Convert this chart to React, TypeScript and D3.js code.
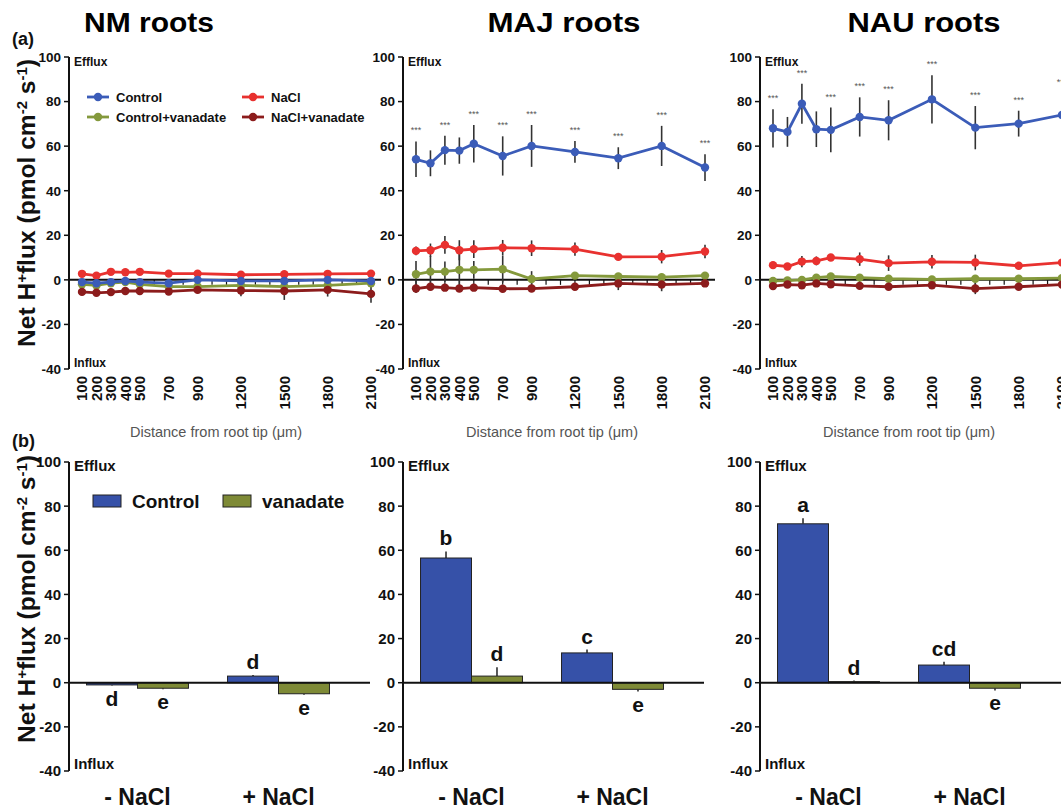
import React from 'react';
import * as d3 from 'd3';

// ---------- data ----------
const distances = [100, 200, 300, 400, 500, 700, 900, 1200, 1500, 1800, 2100];
const panelTitles = ['NM roots', 'MAJ roots', 'NAU roots'];
const yTicks = [100, 80, 60, 40, 20, 0, -20, -40];
const seriesNames = ['Control', 'NaCl', 'Control+vanadate', 'NaCl+vanadate'];
const seriesColors = ['#3b5cb8', '#e8312f', '#84993c', '#8c1c1c'];

// NM roots
const nmControl = [-1, -1.5, -1, -0.5, -1, -1.5, 0, -0.5, -0.5, 0, -0.5];
const nmControlErr = [1, 1, 1, 1, 1, 1, 1, 1, 1, 1, 1];
const nmNaCl = [2.7, 1.9, 3.6, 3.4, 3.6, 2.8, 2.8, 2.3, 2.5, 2.7, 2.8];
const nmNaClErr = [1, 1, 1, 1, 1, 1, 1, 1, 1, 1, 1];
const nmCtrlVan = [-2, -2.5, -1.5, -1, -2, -3, -3, -2.5, -3, -2.5, -1.5];
const nmCtrlVanErr = [1, 1, 1, 1, 1, 1, 1, 1, 1, 1, 1];
const nmNaClVan = [-5.4, -5.8, -5.5, -5, -5, -5.2, -4.5, -4.8, -5, -4.5, -6.3];
const nmNaClVanErr = [1.5, 1.5, 1.5, 1.5, 1.5, 1.5, 1.5, 2.5, 4, 3, 4];

// MAJ roots
const majControl = [54.1, 52.3, 58.2, 58, 61.1, 55.6, 60.1, 57.4, 54.6, 60.1, 50.4];
const majControlErr = [8, 5.8, 6.5, 5.9, 8.4, 8.8, 9.4, 4.9, 4.9, 9, 6];
const majNaCl = [13, 13.3, 15.7, 13.3, 13.8, 14.4, 14.2, 13.8, 10.3, 10.4, 12.7];
const majNaClErr = [2, 3, 4, 4.5, 4, 3.5, 3.5, 3, 1.5, 3, 3];
const majCtrlVan = [2.5, 3.7, 3.7, 4.5, 4.5, 4.8, 0.4, 1.9, 1.5, 1.2, 1.9];
const majCtrlVanErr = [6, 7, 4.5, 9, 4, 6, 3.5, 1.5, 1.5, 1.5, 1.5];
const majNaClVan = [-3.9, -3.1, -3.5, -3.9, -3.5, -4, -3.9, -3.1, -1.6, -2.1, -1.6];
const majNaClVanErr = [2, 1.5, 1.5, 1.5, 1.5, 1.5, 1.5, 1.5, 3, 3, 1.5];

// NAU roots
const nauControl = [68, 66.4, 79, 67.6, 67.3, 73.1, 71.6, 81, 68.3, 70.1, 74];
const nauControlErr = [8.6, 6.7, 9, 8, 10, 8.8, 9, 10.8, 9.7, 5.8, 10];
const nauNaCl = [6.6, 6, 8.2, 8.5, 10, 9.3, 7.5, 8.1, 7.8, 6.3, 7.8];
const nauNaClErr = [1, 1.5, 2.5, 2, 1, 3, 3.5, 3, 3.5, 1.5, 2];
const nauCtrlVan = [-0.5, -0.3, 0, 1, 1.5, 1, 0.5, 0.2, 0.5, 0.5, 0.8];
const nauCtrlVanErr = [1, 1, 1, 1, 1, 1, 1, 1, 1, 1, 1];
const nauNaClVan = [-2.8, -2.1, -2.4, -1.6, -2, -2.7, -3.1, -2.4, -3.9, -3.1, -2.1];
const nauNaClVanErr = [1, 1, 1, 1, 1, 1, 1, 1, 2.5, 1, 1];

const starFlags = [1, 0, 1, 0, 1, 1, 1, 1, 1, 1, 1];

// Bar charts (b)
const barGroups = ['- NaCl', '+ NaCl'];
const barSeries = ['Control', 'vanadate'];
const barColors = ['#3651a8', '#7e8a36'];
const nmBarControl = [-1, 3];
const nmBarControlErr = [0.3, 0.5];
const nmBarVan = [-2.5, -5];
const nmBarVanErr = [0.5, 0.5];
const majBarControl = [56.5, 13.5];
const majBarControlErr = [3, 1.5];
const majBarVan = [3, -3];
const majBarVanErr = [4, 1];
const nauBarControl = [72, 8];
const nauBarControlErr = [2.5, 1.5];
const nauBarVan = [0.5, -2.5];
const nauBarVanErr = [0.5, 1];
const nmLetters = [['d', 'd'], ['e', 'e']];
const majLetters = [['b', 'c'], ['d', 'e']];
const nauLetters = [['a', 'cd'], ['d', 'e']];

// ---------- layout ----------
const W = 1061;
const H = 810;
const axisXs = [69, 403, 760];
const FONT = '"Liberation Sans", Arial, Helvetica, sans-serif';

const linePanels = [
  {
    series: [
      { v: nmCtrlVan, e: nmCtrlVanErr, c: 2 },
      { v: nmNaClVan, e: nmNaClVanErr, c: 3 },
      { v: nmNaCl, e: nmNaClErr, c: 1 },
      { v: nmControl, e: nmControlErr, c: 0 },
    ],
    stars: false,
    ctrl: nmControl,
    ctrlErr: nmControlErr,
  },
  {
    series: [
      { v: majCtrlVan, e: majCtrlVanErr, c: 2 },
      { v: majNaClVan, e: majNaClVanErr, c: 3 },
      { v: majNaCl, e: majNaClErr, c: 1 },
      { v: majControl, e: majControlErr, c: 0 },
    ],
    stars: true,
    ctrl: majControl,
    ctrlErr: majControlErr,
  },
  {
    series: [
      { v: nauCtrlVan, e: nauCtrlVanErr, c: 2 },
      { v: nauNaClVan, e: nauNaClVanErr, c: 3 },
      { v: nauNaCl, e: nauNaClErr, c: 1 },
      { v: nauControl, e: nauControlErr, c: 0 },
    ],
    stars: true,
    ctrl: nauControl,
    ctrlErr: nauControlErr,
  },
];

const barPanels = [
  { vals: [nmBarControl, nmBarVan], errs: [nmBarControlErr, nmBarVanErr], letters: nmLetters },
  { vals: [majBarControl, majBarVan], errs: [majBarControlErr, majBarVanErr], letters: majLetters },
  { vals: [nauBarControl, nauBarVan], errs: [nauBarControlErr, nauBarVanErr], letters: nauLetters },
];

const yTop = d3.scaleLinear().domain([-40, 100]).range([369, 57]);
const yBot = d3.scaleLinear().domain([-40, 100]).range([771, 462]);

function YLabel({ cy }: { cy: number }) {
  return (
    <text
      transform={`translate(35,${cy}) rotate(-90)`}
      textAnchor="middle"
      fontFamily={FONT}
      fontWeight="bold"
      fontSize={23}
      fill="#111"
      textLength={288}
      lengthAdjust="spacingAndGlyphs"
    >
      Net H<tspan baselineShift="super" fontSize={14}>+</tspan>
      flux (pmol cm<tspan baselineShift="super" fontSize={14}>-2</tspan> s
      <tspan baselineShift="super" fontSize={14}>-1</tspan>)
    </text>
  );
}

function YAxis({ ax, y, fs, lblSize }: { ax: number; y: d3.ScaleLinear<number, number>; fs: number; lblSize: number }) {
  return (
    <g>
      <line x1={ax} x2={ax} y1={y(-40)} y2={y(100)} stroke="#111" strokeWidth={2} />
      {yTicks.map((t) => (
        <g key={t}>
          <line x1={ax - 5} x2={ax} y1={y(t)} y2={y(t)} stroke="#111" strokeWidth={1.5} />
          <text
            x={ax - 8}
            y={y(t)}
            dy="0.36em"
            textAnchor="end"
            fontFamily={FONT}
            fontWeight="bold"
            fontSize={fs}
            fill="#111"
          >
            {t}
          </text>
        </g>
      ))}
      <text x={ax + 5} y={y(100) + 9} fontFamily={FONT} fontWeight="bold" fontSize={lblSize} fill="#111">
        Efflux
      </text>
      <text x={ax + 5} y={y(-40) - 2} fontFamily={FONT} fontWeight="bold" fontSize={lblSize} fill="#111">
        Influx
      </text>
    </g>
  );
}

function LinePanel({ idx }: { idx: number }) {
  const ax = axisXs[idx];
  const p = linePanels[idx];
  const x = d3.scaleLinear().domain([100, 2100]).range([ax + 13, ax + 302]);
  const y = yTop;
  const lineGen = d3
    .line<number>()
    .x((_, i) => x(distances[i]))
    .y((d) => y(d));
  const minor = d3.range(100, 2101, 100);
  return (
    <g>
      <YAxis ax={ax} y={y} fs={13.5} lblSize={12} />
      <line x1={ax} x2={ax + 312} y1={y(0)} y2={y(0)} stroke="#111" strokeWidth={2} />
      {minor.map((m) => (
        <line key={m} x1={x(m)} x2={x(m)} y1={y(0)} y2={y(0) + 5} stroke="#111" strokeWidth={1.2} />
      ))}
      {p.series.map((s, si) =>
        s.v.map((v, i) => (
          <line
            key={`e${si}-${i}`}
            x1={x(distances[i])}
            x2={x(distances[i])}
            y1={y(v - s.e[i])}
            y2={y(v + s.e[i])}
            stroke="#333"
            strokeWidth={1.6}
          />
        ))
      )}
      {p.series.map((s, si) => (
        <g key={`s${si}`}>
          <path d={lineGen(s.v) || ''} fill="none" stroke={seriesColors[s.c]} strokeWidth={2.8} />
          {s.v.map((v, i) => (
            <circle key={i} cx={x(distances[i])} cy={y(v)} r={4.2} fill={seriesColors[s.c]} />
          ))}
        </g>
      ))}
      {p.stars &&
        p.ctrl.map((v, i) =>
          starFlags[i] ? (
            <text
              key={`st${i}`}
              x={x(distances[i])}
              y={y(v + p.ctrlErr[i]) - 8}
              textAnchor="middle"
              fontFamily={FONT}
              fontSize={9}
              fill="#555"
            >
              ***
            </text>
          ) : null
        )}
      {distances.map((d) => (
        <text
          key={`xl${d}`}
          transform={`translate(${x(d)},376) rotate(-90)`}
          dy="0.36em"
          textAnchor="end"
          fontFamily={FONT}
          fontWeight="bold"
          fontSize={15}
          fill="#111"
        >
          {d}
        </text>
      ))}
    </g>
  );
}

function BarPanel({ idx }: { idx: number }) {
  const ax = axisXs[idx];
  const p = barPanels[idx];
  const y = yBot;
  const x0 = d3.scaleBand<string>().domain(barGroups).range([ax - 2, ax + 280]).paddingInner(0.277).paddingOuter(0.1385);
  const x1 = d3.scaleBand<string>().domain(barSeries).range([0, x0.bandwidth()]);
  return (
    <g>
      <YAxis ax={ax} y={y} fs={15} lblSize={15} />
      {barGroups.map((g, gi) => (
        <g key={g}>
          {barSeries.map((s, si) => {
            const v = p.vals[si][gi];
            const e = p.errs[si][gi];
            const bx = (x0(g) || 0) + (x1(s) || 0);
            const bw = x1.bandwidth();
            const top = Math.min(y(v), y(0));
            const h = Math.abs(y(v) - y(0));
            const tip = v >= 0 ? v + e : v - e;
            const letter = p.letters[si][gi];
            return (
              <g key={s}>
                <line x1={bx + bw / 2} x2={bx + bw / 2} y1={y(v)} y2={y(tip)} stroke="#222" strokeWidth={1.5} />
                <rect x={bx} y={top} width={bw} height={Math.max(h, 1)} fill={barColors[si]} stroke="#222" strokeWidth={1} />
                <text
                  x={bx + bw / 2}
                  y={v >= 0 ? y(tip) - 6 : y(tip) + 20}
                  textAnchor="middle"
                  fontFamily={FONT}
                  fontWeight="bold"
                  fontSize={21}
                  fill="#111"
                >
                  {letter}
                </text>
              </g>
            );
          })}
          <text
            x={(x0(g) || 0) + x0.bandwidth() / 2}
            y={805}
            textAnchor="middle"
            fontFamily={FONT}
            fontWeight="bold"
            fontSize={23}
            fill="#111"
          >
            {g}
          </text>
        </g>
      ))}
      <line x1={ax} x2={ax + 301} y1={y(0)} y2={y(0)} stroke="#111" strokeWidth={2} />
    </g>
  );
}

const titleCenters = [149, 564, 924];
const titleWidths = [130, 153, 153];
const distCenters = [216, 552, 909];

export default function App() {
  return (
    <svg
      width={W}
      height={H}
      viewBox={`0 0 ${W} ${H}`}
      style={{ position: 'absolute', left: 0, top: 0, background: '#fff' }}
    >
      <rect x={0} y={0} width={W} height={H} fill="#fff" />
      {panelTitles.map((t, i) => (
        <text
          key={t}
          x={titleCenters[i]}
          y={32}
          textAnchor="middle"
          fontFamily={FONT}
          fontWeight="bold"
          fontSize={27}
          fill="#000"
          textLength={titleWidths[i]}
          lengthAdjust="spacingAndGlyphs"
        >
          {t}
        </text>
      ))}
      <text x={12} y={45} fontFamily={FONT} fontWeight="bold" fontSize={18} fill="#111">
        (a)
      </text>
      <text x={12} y={447} fontFamily={FONT} fontWeight="bold" fontSize={18} fill="#111">
        (b)
      </text>
      <YLabel cy={203} />
      <YLabel cy={599} />
      {[0, 1, 2].map((i) => (
        <LinePanel key={`lp${i}`} idx={i} />
      ))}
      {distCenters.map((c, i) => (
        <text
          key={`dc${i}`}
          x={c}
          y={437}
          textAnchor="middle"
          fontFamily={FONT}
          fontSize={15}
          fill="#555"
          textLength={172}
          lengthAdjust="spacingAndGlyphs"
        >
          Distance from root tip (μm)
        </text>
      ))}
      {seriesNames.map((n, i) => {
        const lx = i % 2 === 0 ? 87 : 242;
        const ly = i < 2 ? 97 : 117;
        const c = seriesColors[i];
        return (
          <g key={n}>
            <line x1={lx} x2={lx + 22} y1={ly} y2={ly} stroke={c} strokeWidth={2.8} />
            <circle cx={lx + 11} cy={ly} r={4.2} fill={c} />
            <text x={lx + 29} y={ly} dy="0.35em" fontFamily={FONT} fontWeight="bold" fontSize={13} fill="#111">
              {n}
            </text>
          </g>
        );
      })}
      {[0, 1, 2].map((i) => (
        <BarPanel key={`bp${i}`} idx={i} />
      ))}
      {barSeries.map((s, i) => {
        const lx = i === 0 ? 93 : 223;
        return (
          <g key={s}>
            <rect x={lx} y={495} width={28} height={12} fill={barColors[i]} stroke="#222" strokeWidth={1} />
            <text x={lx + 39} y={501} dy="0.36em" fontFamily={FONT} fontWeight="bold" fontSize={19} fill="#111">
              {s}
            </text>
          </g>
        );
      })}
    </svg>
  );
}
